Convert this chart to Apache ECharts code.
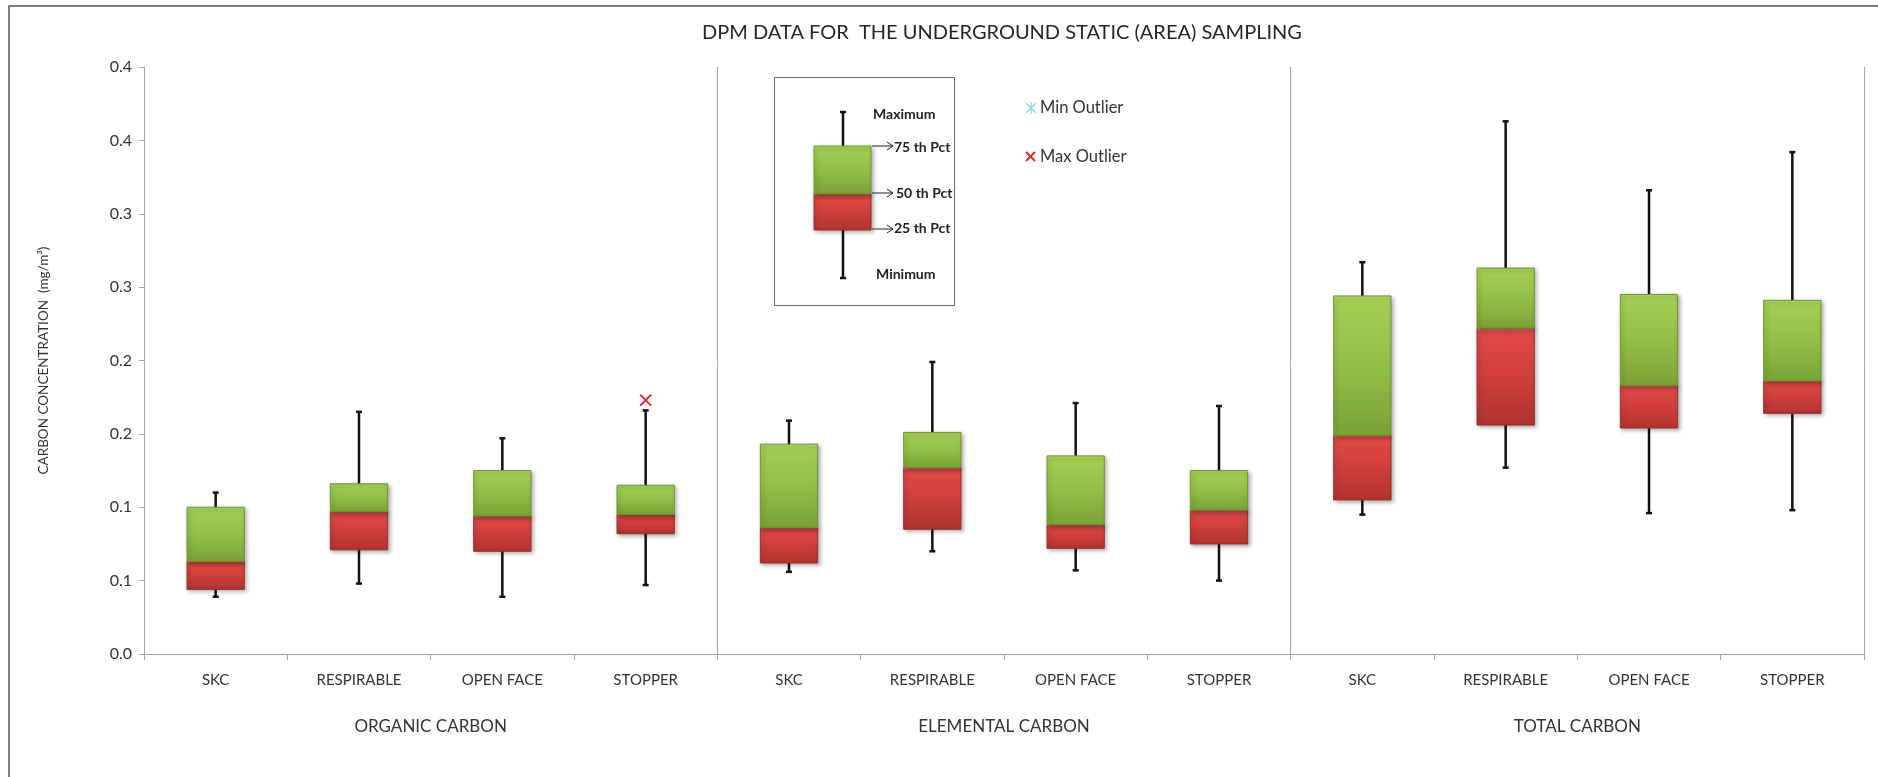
<!DOCTYPE html>
<html><head><meta charset="utf-8">
<script src="https://cdn.jsdelivr.net/npm/echarts@6/dist/echarts.min.js"></script>
<style>html,body{margin:0;padding:0;background:#fff}#c{width:1878px;height:777px}</style>
</head><body><div id="c"></div>
<script>
const groups = ['ORGANIC CARBON', 'ELEMENTAL CARBON', 'TOTAL CARBON'];
const categories = ['SKC', 'RESPIRABLE', 'OPEN FACE', 'STOPPER',
                    'SKC', 'RESPIRABLE', 'OPEN FACE', 'STOPPER',
                    'SKC', 'RESPIRABLE', 'OPEN FACE', 'STOPPER'];
const minVals    = [0.039, 0.048, 0.039, 0.047, 0.056, 0.070, 0.057, 0.050, 0.095, 0.127, 0.096, 0.098];
const q1Vals     = [0.044, 0.071, 0.070, 0.082, 0.062, 0.085, 0.072, 0.075, 0.105, 0.156, 0.154, 0.164];
const medianVals = [0.063, 0.097, 0.094, 0.095, 0.086, 0.127, 0.088, 0.098, 0.149, 0.222, 0.183, 0.186];
const q3Vals     = [0.100, 0.116, 0.125, 0.115, 0.143, 0.151, 0.135, 0.125, 0.244, 0.263, 0.245, 0.241];
const maxVals    = [0.110, 0.165, 0.147, 0.166, 0.159, 0.199, 0.171, 0.169, 0.267, 0.363, 0.316, 0.342];
const maxOutlierCats = [3];
const maxOutlierVals = [0.173];
const yTickLabels = ['0.0', '0.1', '0.1', '0.2', '0.2', '0.3', '0.3', '0.4', '0.4'];

const FONT = 'Lato, "Open Sans", "Noto Sans", sans-serif';
const chart = echarts.init(document.getElementById('c'), null, {renderer: 'canvas'});

const greenGrad = {type: 'linear', x: 0, y: 0, x2: 0, y2: 1, colorStops: [
  {offset: 0, color: '#b8dd6c'}, {offset: 0.04, color: '#a3cf55'}, {offset: 0.5, color: '#92bf46'}, {offset: 1, color: '#7aa237'}]};
const redGrad = {type: 'linear', x: 0, y: 0, x2: 0, y2: 1, colorStops: [
  {offset: 0, color: '#f27a74'}, {offset: 0.05, color: '#e04a46'}, {offset: 0.5, color: '#cf3f3c'}, {offset: 1, color: '#b03330'}]};
const shadow = {shadowBlur: 4, shadowOffsetX: 2, shadowOffsetY: 2, shadowColor: 'rgba(0,0,0,0.3)'};

function renderBox(params, api) {
  const i = api.value(0);
  const c = api.coord([i, 0])[0];
  const bw = api.size([1, 0])[0] * 0.4;
  const yMin = api.coord([i, api.value(1)])[1];
  const yQ1 = api.coord([i, api.value(2)])[1];
  const yMed = api.coord([i, api.value(3)])[1];
  const yQ3 = api.coord([i, api.value(4)])[1];
  const yMax = api.coord([i, api.value(5)])[1];
  const cap = 3;
  const ws = {stroke: '#111', lineWidth: 2.5};
  return {type: 'group', children: [
    {type: 'line', shape: {x1: c, y1: yMax, x2: c, y2: yMin}, style: ws},
    {type: 'line', shape: {x1: c - cap, y1: yMax, x2: c + cap, y2: yMax}, style: ws},
    {type: 'line', shape: {x1: c - cap, y1: yMin, x2: c + cap, y2: yMin}, style: ws},
    {type: 'rect', shape: {x: c - bw / 2, y: yMed, width: bw, height: yQ1 - yMed},
     style: Object.assign({fill: redGrad, stroke: '#9e2c29', lineWidth: 1}, shadow)},
    {type: 'rect', shape: {x: c - bw / 2, y: yQ3, width: bw, height: yMed - yQ3},
     style: Object.assign({fill: greenGrad, stroke: '#6e9430', lineWidth: 1}, shadow)}
  ]};
}

function renderX(params, api) {
  const p = api.coord([api.value(0), api.value(1)]);
  const s = 5.5;
  const st = {stroke: '#e3262b', lineWidth: 2};
  return {type: 'group', children: [
    {type: 'line', shape: {x1: p[0] - s, y1: p[1] - s, x2: p[0] + s, y2: p[1] + s}, style: st},
    {type: 'line', shape: {x1: p[0] - s, y1: p[1] + s, x2: p[0] + s, y2: p[1] - s}, style: st}
  ]};
}

const boxData = categories.map((_, i) => [i, minVals[i], q1Vals[i], medianVals[i], q3Vals[i], maxVals[i]]);
const outData = maxOutlierCats.map((c, i) => [c, maxOutlierVals[i]]);

// legend-box decoration
const lx = 843;
const legendBold = {fontFamily: FONT, fontWeight: 'bold', fontSize: 14, fill: '#222'};
function arrow(y) {
  return [
    {type: 'line', shape: {x1: 872, y1: y, x2: 893, y2: y}, style: {stroke: '#222', lineWidth: 1}},
    {type: 'polyline', shape: {points: [[887, y - 4], [893, y], [887, y + 4]]}, style: {stroke: '#222', lineWidth: 1, fill: null}}
  ];
}
const legendChildren = [
  {type: 'rect', shape: {x: 774.5, y: 77.5, width: 180, height: 228}, style: {fill: '#fff', stroke: '#666', lineWidth: 1}},
  {type: 'line', shape: {x1: lx, y1: 112, x2: lx, y2: 278}, style: {stroke: '#111', lineWidth: 2.5}},
  {type: 'line', shape: {x1: lx - 3, y1: 112, x2: lx + 3, y2: 112}, style: {stroke: '#111', lineWidth: 2.5}},
  {type: 'line', shape: {x1: lx - 3, y1: 278, x2: lx + 3, y2: 278}, style: {stroke: '#111', lineWidth: 2.5}},
  {type: 'rect', shape: {x: 814, y: 194, width: 57, height: 36}, style: Object.assign({fill: redGrad, stroke: '#9e2c29', lineWidth: 1}, shadow)},
  {type: 'rect', shape: {x: 814, y: 146, width: 57, height: 48}, style: Object.assign({fill: greenGrad, stroke: '#6e9430', lineWidth: 1}, shadow)},
  {type: 'text', x: 873, y: 114, style: Object.assign({text: 'Maximum', verticalAlign: 'middle'}, legendBold)},
  {type: 'text', x: 894, y: 147, style: Object.assign({text: '75 th Pct', verticalAlign: 'middle'}, legendBold)},
  {type: 'text', x: 896, y: 193, style: Object.assign({text: '50 th Pct', verticalAlign: 'middle'}, legendBold)},
  {type: 'text', x: 894, y: 228, style: Object.assign({text: '25 th Pct', verticalAlign: 'middle'}, legendBold)},
  {type: 'text', x: 876, y: 274, style: Object.assign({text: 'Minimum', verticalAlign: 'middle'}, legendBold)},
  ...arrow(146), ...arrow(193), ...arrow(229),
  // min outlier asterisk
  {type: 'line', shape: {x1: 1031, y1: 102, x2: 1031, y2: 114}, style: {stroke: '#8fd3ea', lineWidth: 1.3}},
  {type: 'line', shape: {x1: 1026, y1: 103, x2: 1036, y2: 113}, style: {stroke: '#8fd3ea', lineWidth: 1.3}},
  {type: 'line', shape: {x1: 1026, y1: 113, x2: 1036, y2: 103}, style: {stroke: '#8fd3ea', lineWidth: 1.3}},
  {type: 'text', x: 1040, y: 108, style: {text: 'Min Outlier', verticalAlign: 'middle', fontFamily: FONT, fontSize: 16.5, fill: '#333'}},
  // max outlier X
  {type: 'line', shape: {x1: 1026, y1: 152, x2: 1035, y2: 161}, style: {stroke: '#e3262b', lineWidth: 2}},
  {type: 'line', shape: {x1: 1026, y1: 161, x2: 1035, y2: 152}, style: {stroke: '#e3262b', lineWidth: 2}},
  {type: 'text', x: 1040, y: 157, style: {text: 'Max Outlier', verticalAlign: 'middle', fontFamily: FONT, fontSize: 16.5, fill: '#333'}}
];

const option = {
  backgroundColor: '#fff',
  animation: false,
  textStyle: {fontFamily: FONT},
  grid: {left: 144, right: 14, top: 67, bottom: 123, containLabel: false},
  graphic: [
    {type: 'rect', z: -10, shape: {x: 9, y: 6, width: 1950, height: 850}, style: {fill: null, stroke: '#555', lineWidth: 1.5}},
    {type: 'text', x: 1002, y: 33, style: {text: 'DPM DATA FOR  THE UNDERGROUND STATIC (AREA) SAMPLING', align: 'center', verticalAlign: 'middle', fontFamily: FONT, fontSize: 20, fill: '#262626'}},
    {type: 'group', children: legendChildren}
  ],
  xAxis: [
    {type: 'category', data: categories, position: 'bottom', boundaryGap: true,
     axisLine: {lineStyle: {color: '#a6a6a6', width: 1}},
     axisTick: {show: true, length: 6, lineStyle: {color: '#a6a6a6'}},
     axisLabel: {margin: 19, fontSize: 15, color: '#333', fontFamily: FONT, interval: 0},
     splitLine: {show: false}},
    {type: 'category', data: groups, position: 'bottom', boundaryGap: true,
     axisLine: {show: false}, axisTick: {show: false},
     axisLabel: {margin: 64, fontSize: 17, color: '#333', fontFamily: FONT, interval: 0},
     splitLine: {show: true, interval: (idx) => idx === 1 || idx === 2, lineStyle: {color: '#a6a6a6', width: 1}}}
  ],
  yAxis: {type: 'value', min: 0, max: 0.4, interval: 0.05,
    name: 'CARBON CONCENTRATION  (mg/m³)', nameLocation: 'middle', nameGap: 93,
    nameTextStyle: {fontSize: 13.5, color: '#333', fontFamily: FONT},
    axisLine: {show: true, lineStyle: {color: '#a6a6a6'}},
    axisTick: {show: true, length: 5, lineStyle: {color: '#a6a6a6'}},
    axisLabel: {margin: 12, fontSize: 16, color: '#333', fontFamily: FONT,
      formatter: (v) => yTickLabels[Math.round(v / 0.05)]},
    splitLine: {show: false}},
  series: [
    {type: 'custom', name: 'box', xAxisIndex: 0, renderItem: renderBox, data: boxData, encode: {x: 0, y: [1, 2, 3, 4, 5]}, z: 5},
    {type: 'custom', name: 'maxOutlier', xAxisIndex: 0, renderItem: renderX, data: outData, encode: {x: 0, y: 1}, z: 6}
  ]
};
chart.setOption(option);
</script>
</body></html>
